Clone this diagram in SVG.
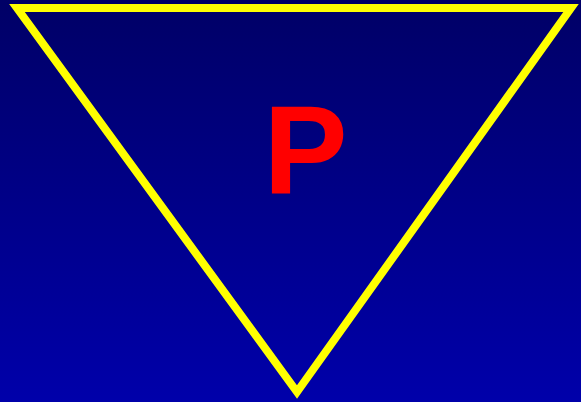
<svg xmlns="http://www.w3.org/2000/svg" width="581" height="402" viewBox="0 0 581 402">
<defs>
<linearGradient id="bg" x1="0" y1="0" x2="0" y2="1">
<stop offset="0" stop-color="#000066"/>
<stop offset="1" stop-color="#0000AA"/>
</linearGradient>
<style>
.tri{fill:none;stroke:#FFFF00;stroke-width:8;stroke-linejoin:miter;stroke-miterlimit:10}
.lbl{font-family:"Liberation Sans",Arial,sans-serif;font-weight:bold;font-size:126px;fill:#FF0000;text-anchor:middle}
</style>
</defs>
<rect x="0" y="0" width="581" height="402" fill="url(#bg)"/>
<g id="triangle">
<polygon class="tri" points="17,8 571,8 297,392"/>
</g>
<g id="label">
<text class="lbl" x="305.5" y="194">P</text>
</g>
</svg>
